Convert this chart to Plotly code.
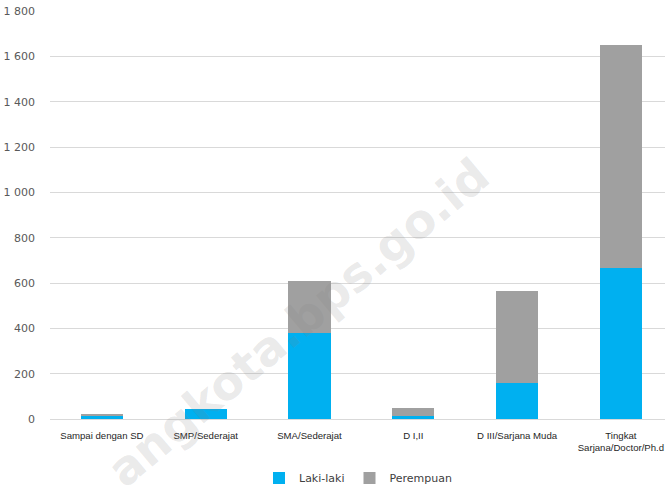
import plotly.graph_objects as go

categories = ["Sampai dengan SD", "SMP/Sederajat", "SMA/Sederajat", "D I,II",
              "D III/Sarjana Muda", "Tingkat<br>Sarjana/Doctor/Ph.d"]
laki_laki = [14, 43, 379, 13, 160, 667]
perempuan = [7, 0, 231, 37, 405, 983]
y_ticks = [0, 200, 400, 600, 800, 1000, 1200, 1400, 1600, 1800]

W, H = 665, 488

fig = go.Figure()
fig.add_trace(go.Bar(x=categories, y=laki_laki, name="Laki-laki",
                     marker=dict(color="#00B0F0", line=dict(width=0))))
fig.add_trace(go.Bar(x=categories, y=perempuan, name="Perempuan",
                     marker=dict(color="#A0A0A0", line=dict(width=0))))

fig.update_layout(
    barmode="stack",
    bargap=0.595,
    width=W, height=H,
    margin=dict(l=50, r=0, t=11, b=69),
    paper_bgcolor="white", plot_bgcolor="white",
    separators=", ",
    showlegend=True,
    legend=dict(orientation="h", x=358 / W, xanchor="center", xref="container",
                y=10 / H, yanchor="middle", yref="container",
                font=dict(family="DejaVu Sans, sans-serif", size=11, color="#404040"),
                itemwidth=30, traceorder="normal"),
    xaxis=dict(range=[-0.5, 5.425], showgrid=False, showline=True,
               linecolor="#D9D9D9", linewidth=1, ticks="",
               ticklabelstandoff=7,
               tickfont=dict(family="Liberation Sans, Arial, sans-serif",
                             size=9.6, color="#262626")),
    yaxis=dict(range=[0, 1800], tickvals=y_ticks, showgrid=True, gridcolor="#D9D9D9",
               gridwidth=1, zeroline=False, showline=False, tickformat=",d",
               ticklabelstandoff=14,
               tickfont=dict(family="DejaVu Sans, sans-serif", size=11, color="#595959")),
    annotations=[dict(text="<b>angkota.bps.go.id</b>",
                      x=(298 - 50) / 615, y=(419 - 322) / 408,
                      xref="paper", yref="paper", xanchor="center", yanchor="middle",
                      showarrow=False, textangle=-40,
                      font=dict(family="DejaVu Sans, sans-serif", size=47,
                                color="rgba(128,128,128,0.18)"))],
)

fig.write_html("out.html", config={"displayModeBar": False},
               post_script="document.body.style.margin='0';document.body.style.overflow='hidden';")
